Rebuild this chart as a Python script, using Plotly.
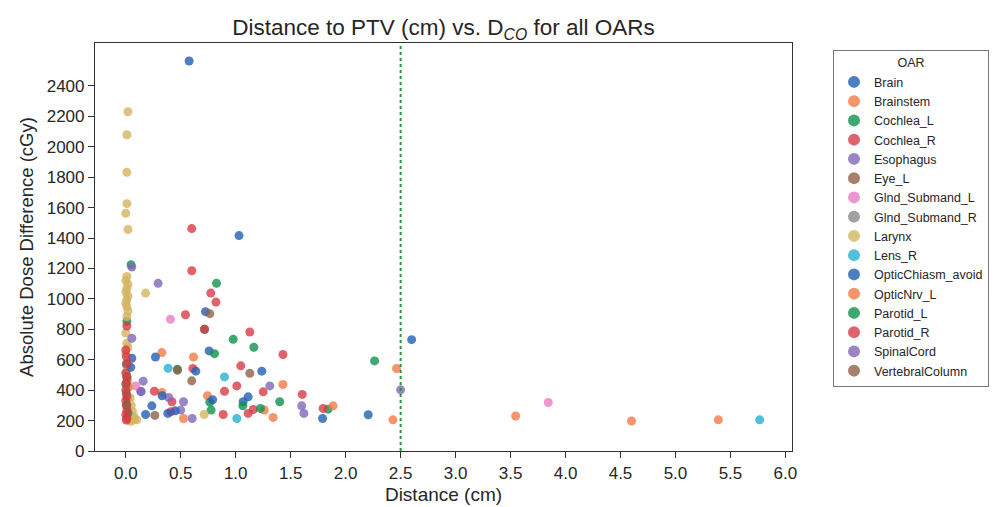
import plotly.graph_objects as go

# ---------------- data ----------------
oars = ["Brain", "Brainstem", "Cochlea_L", "Cochlea_R", "Esophagus", "Eye_L",
        "Glnd_Submand_L", "Glnd_Submand_R", "Larynx", "Lens_R",
        "OpticChiasm_avoid", "OpticNrv_L", "Parotid_L", "Parotid_R",
        "SpinalCord", "VertebralColumn"]

colors = ["#235fb4", "#f27a45", "#0e924c", "#d83b45", "#8166b8", "#906046",
          "#ea7cc3", "#898989", "#d3b460", "#24b0d2",
          "#235fb4", "#f27a45", "#0e924c", "#d83b45", "#8166b8", "#906046"]

brain_x = [0.576, 1.03, 0.725, 0.758, 2.6, 1.237]
brain_y = [2564, 1416, 916, 658, 732, 525]

brainstem_x = [0.328, 0.616, 0.328, 0.743, 1.43, 2.463, 2.43, 0.01]
brainstem_y = [647, 618, 385, 363, 437, 542, 205, 300]

cochlea_l_x = [0.048, 0.825, 0.807, 0.47, 0.764, 0.776, 1.84, 2.263, 0.01, 0.005, 0.015]
cochlea_l_y = [1224, 1102, 640, 538, 321, 269, 275, 592, 851, 570, 345]

cochlea_r_x = [0.6, 0.61, 0.26, 0.42, 0.41, 1.16, 1.113, 0.886, 1.795]
cochlea_r_y = [1462, 542, 393, 324, 258, 273, 247, 240, 280]

esophagus_x = [0.055, 0.294, 0.158, 0.136, 0.39, 0.525, 0.5, 0.604]
esophagus_y = [1209, 1102, 459, 393, 352, 324, 269, 214]

eye_l_x = [0.764, 0.47, 0.6, 1.128]
eye_l_y = [903, 530, 461, 511]

glnd_l_x = [0.406, 0.09, 3.843]
glnd_l_y = [866, 428, 319]

glnd_r_x = [0.01]
glnd_r_y = [560]

larynx_x = [0.02, 0.01, 0.01, 0.01, 0.0, 0.02, 0.18, 0.713,
            0.01, 0.0, 0.02, 0.01, 0.0, 0.02, 0.01, 0.0, 0.01, 0.02, 0.01,
            0.0, 0.01, 0.02, 0.0, 0.01, 0.02, 0.03, 0.04, 0.05, 0.06, 0.07,
            0.08, 0.1, 0.05, 0.03]
larynx_y = [2230, 2079, 1832, 1626, 1563, 1456, 1038, 240,
            1147, 1120, 1095, 1070, 1045, 1020, 995, 972, 949, 920, 884,
            776, 708, 680, 640, 520, 460, 420, 350, 300, 260, 230,
            210, 205, 195, 200]

lens_r_x = [0.385, 0.898, 1.01, 5.766]
lens_r_y = [544, 487, 214, 205]

chiasm_x = [0.27, 0.637, 0.33, 0.237, 0.79, 1.113, 1.067, 0.382, 0.45, 0.18,
            1.79, 2.205, 0.055, 0.045]
chiasm_y = [618, 525, 363, 297, 337, 356, 324, 247, 264, 240,
            214, 238, 610, 550]

opticnrv_x = [0.525, 1.26, 1.34, 1.886, 3.546, 4.6, 5.39, 0.02]
opticnrv_y = [214, 269, 221, 297, 230, 197, 205, 420]

parotid_l_x = [0.977, 1.165, 1.065, 1.4, 1.225, 0.716, 0.01, 0.02, 0.0, 0.005]
parotid_l_y = [734, 682, 297, 324, 280, 800, 490, 250, 440, 380]

parotid_r_x = [0.6, 0.773, 0.82, 0.543, 0.716, 1.128, 1.43, 1.046, 1.01, 0.898,
               1.25, 1.605, 0.01, 0.0, 0.005, 0.01, 0.0, 0.01, 0.005, 0.0,
               0.01, 0.0, 0.005, 0.01, 0.0, 0.01, 0.005]
parotid_r_y = [1185, 1038, 979, 896, 800, 782, 634, 560, 428, 393,
               389, 372, 822, 664, 620, 577, 513, 480, 447, 401,
               360, 330, 300, 270, 240, 215, 204]

spinal_x = [1.31, 1.6, 1.62, 2.5, 0.055, 0.14]
spinal_y = [428, 297, 247, 402, 741, 390]

vertebral_x = [0.264, 0.01]
vertebral_y = [234, 302]

series_x = [brain_x, brainstem_x, cochlea_l_x, cochlea_r_x, esophagus_x, eye_l_x,
            glnd_l_x, glnd_r_x, larynx_x, lens_r_x, chiasm_x, opticnrv_x,
            parotid_l_x, parotid_r_x, spinal_x, vertebral_x]
series_y = [brain_y, brainstem_y, cochlea_l_y, cochlea_r_y, esophagus_y, eye_l_y,
            glnd_l_y, glnd_r_y, larynx_y, lens_r_y, chiasm_y, opticnrv_y,
            parotid_l_y, parotid_r_y, spinal_y, vertebral_y]

x_ticks = [0.0, 0.5, 1.0, 1.5, 2.0, 2.5, 3.0, 3.5, 4.0, 4.5, 5.0, 5.5, 6.0]
y_ticks = list(range(0, 2401, 200))
threshold = 2.5

# ---------------- figure ----------------
fig = go.Figure()
for name, c, xs, ys in zip(oars, colors, series_x, series_y):
    fig.add_trace(go.Scatter(
        x=xs, y=ys, mode="markers", name=name,
        marker=dict(color=c, size=9, opacity=0.8, line=dict(width=0)),
    ))

fig.add_vline(x=threshold, line=dict(color="#1a9a3a", width=2, dash="dot"))

font_family = "Liberation Sans, Arial, sans-serif"
axis_common = dict(
    showline=True, linecolor="#333333", linewidth=1.2, mirror=True,
    ticks="outside", ticklen=6, tickcolor="#333333", tickwidth=1.2,
    showgrid=False, zeroline=False, automargin=False,
    tickfont=dict(family=font_family, size=17, color="#262626"),
)

# page body adds an 8px offset; positions below are in figure pixels
OFF = 8
L, R, T, B = 95 - OFF, 792 - OFF, 43 - OFF, 451 - OFF
fig.update_layout(
    width=1003, height=507,
    paper_bgcolor="white", plot_bgcolor="white",
    margin=dict(l=L, r=1003 - R, t=T, b=507 - B, autoexpand=False),
    title=dict(
        text="Distance to PTV (cm) vs. D<sub><i>CO</i></sub> for all OARs",
        x=(L + R) / 2 / 1003, xanchor="center", y=1 - (27 - OFF) / 507, yanchor="middle",
        font=dict(family=font_family, size=22.5, color="#262626"),
    ),
    xaxis=dict(
        range=[-0.28, 6.06], tickvals=x_ticks, tickformat=".1f",
        title=dict(text="Distance (cm)", standoff=6,
                   font=dict(family=font_family, size=19, color="#262626")),
        **axis_common,
    ),
    yaxis=dict(
        range=[0, 2682], tickvals=y_ticks,
        title=dict(text="Absolute Dose Difference (cGy)", standoff=8,
                   font=dict(family=font_family, size=18.5, color="#262626")),
        **axis_common,
    ),
    legend=dict(
        title=dict(text="OAR", side="top center",
                   font=dict(family=font_family, size=12.5, color="#262626")),
        font=dict(family=font_family, size=12.5, color="#262626"),
        x=(833 - OFF - L) / (R - L), xanchor="left",
        y=(B - (50 - OFF)) / (B - T), yanchor="top",
        bordercolor="#777777", borderwidth=1, bgcolor="white",
        itemsizing="constant", tracegroupgap=0,
    ),
    showlegend=True,
)

fig.write_html("out.html")
